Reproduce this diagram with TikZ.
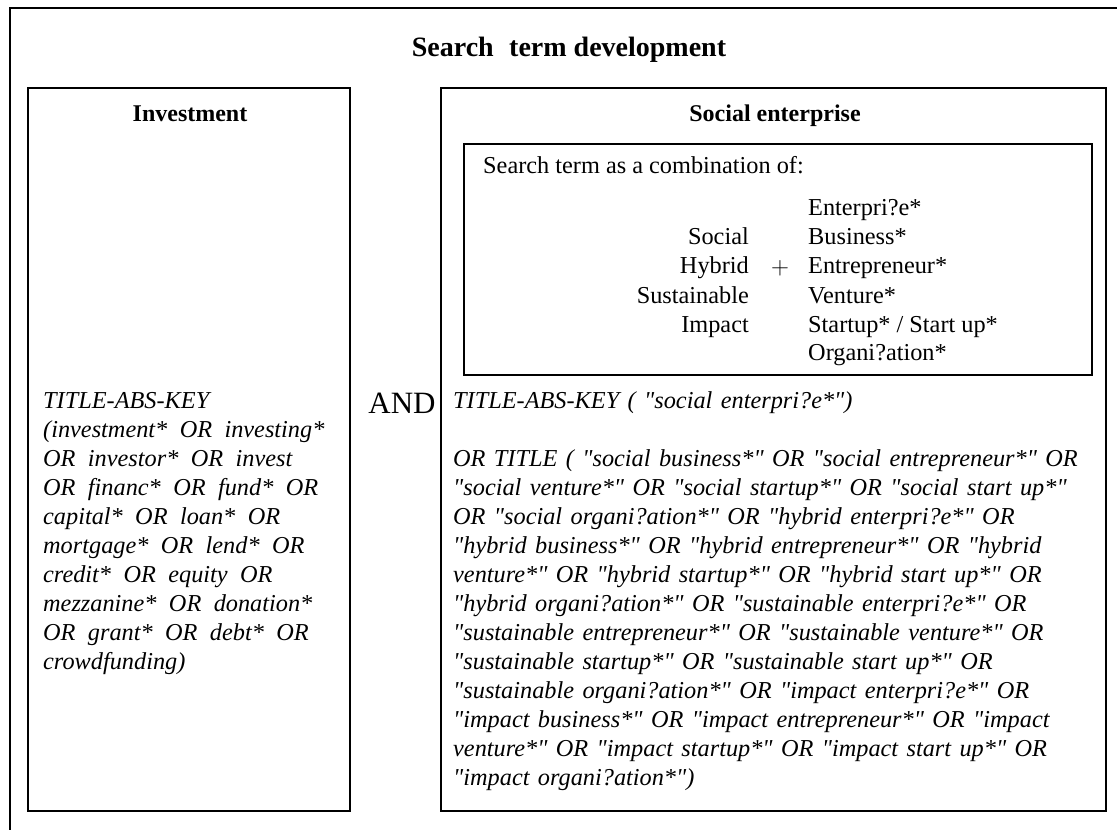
\documentclass[tikz,border=0pt]{standalone}
\usepackage{fontspec}
\setmainfont{Liberation Serif}
\newfontfamily\queryserif{Liberation Serif}
\newcommand\invqueryfont{\fontsize{24.3}{29}\queryserif\itshape\spaceskip=12.4pt\relax}
\newcommand\socqueryfont{\fontsize{24.3}{29}\queryserif\itshape\spaceskip=8.4pt\relax}

\begin{document}
\begin{tikzpicture}[x=1pt,y=-1pt,
  panel/.style={draw,line width=1.4pt,inner sep=0pt},
  head/.style={inner sep=0pt,anchor=base,font=\fontsize{24}{28}\selectfont\bfseries},
  term/.style={inner sep=0pt,font=\fontsize{24.3}{29}\selectfont},
  query/.style={inner sep=0pt,anchor=base west,align=left}]
  \useasboundingbox (0,0) rectangle (1117,830);
  % outer frame (cut off at right and bottom)
  \coordinate (framebl) at (10,830);
  \coordinate (frametl) at (10,8);
  \coordinate (frametr) at (1117,8);
  \draw[line width=1.6pt] (framebl) -- (frametl) -- (frametr);
  \node[head,font=\fontsize{28}{32}\selectfont\bfseries] (title) at (569,56) {Search\hspace{0.3em} term development};
  % the two blocks
  \node[panel,minimum width=322,minimum height=723] (invbox) at (189,449.5) {};
  \node[panel,minimum width=665,minimum height=723] (socbox) at (773.5,449.5) {};
  \node[head] (invhead) at (190,121) {Investment};
  \node[head] (sochead) at (775,121) {Social enterprise};
  \node[inner sep=0pt,anchor=base,font=\fontsize{31}{34}\selectfont] (and) at (402,413) {AND};
  % combination box
  \node[panel,line width=1.2pt,minimum width=628,minimum height=231] (combo) at (778,259.5) {};
  \node[term,anchor=base west] (combohead) at (483,173) {Search term as a combination of:};
  \node[term,anchor=base east] (social) at (749,244) {Social};
  \node[term,anchor=base east] (hybrid) at (749,273) {Hybrid};
  \node[term,anchor=base east] (sustainable) at (749,303) {Sustainable};
  \node[term,anchor=base east] (impact) at (749,332) {Impact};
  \node[term] (plus) at (780,268) {$+$};
  \node[term,anchor=base west] (enterprise) at (808,215) {Enterpri?e*};
  \node[term,anchor=base west] (business) at (808,244) {Business*};
  \node[term,anchor=base west] (entrepreneur) at (808,273) {Entrepreneur*};
  \node[term,anchor=base west] (venture) at (808,303) {Venture*};
  \node[term,anchor=base west] (startup) at (808,332) {Startup* / Start up*};
  \node[term,anchor=base west] (organisation) at (808,360) {Organi?ation*};
  % search strings (placed by the baseline of their last line)
  \node[query,font=\invqueryfont] (invquery) at (43,669) {TITLE-ABS-KEY\\
    (investment* OR investing*\\
    OR investor* OR invest\\
    OR financ* OR fund* OR\\
    capital* OR loan* OR\\
    mortgage* OR lend* OR\\
    credit* OR equity OR\\
    mezzanine* OR donation*\\
    OR grant* OR debt* OR\\
    crowdfunding)};
  \node[query,font=\socqueryfont] (socquery) at (453,785) {TITLE-ABS-KEY ( "social enterpri?e*")\\[29pt]
    OR TITLE ( "social business*" OR "social entrepreneur*" OR\\
    "social venture*" OR "social startup*" OR "social start up*"\\
    OR "social organi?ation*" OR "hybrid enterpri?e*" OR\\
    "hybrid business*" OR "hybrid entrepreneur*" OR "hybrid\\
    venture*" OR "hybrid startup*" OR "hybrid start up*" OR\\
    "hybrid organi?ation*" OR "sustainable enterpri?e*" OR\\
    "sustainable entrepreneur*" OR "sustainable venture*" OR\\
    "sustainable startup*" OR "sustainable start up*" OR\\
    "sustainable organi?ation*" OR "impact enterpri?e*" OR\\
    "impact business*" OR "impact entrepreneur*" OR "impact\\
    venture*" OR "impact startup*" OR "impact start up*" OR\\
    "impact organi?ation*")};
\end{tikzpicture}
\end{document}
